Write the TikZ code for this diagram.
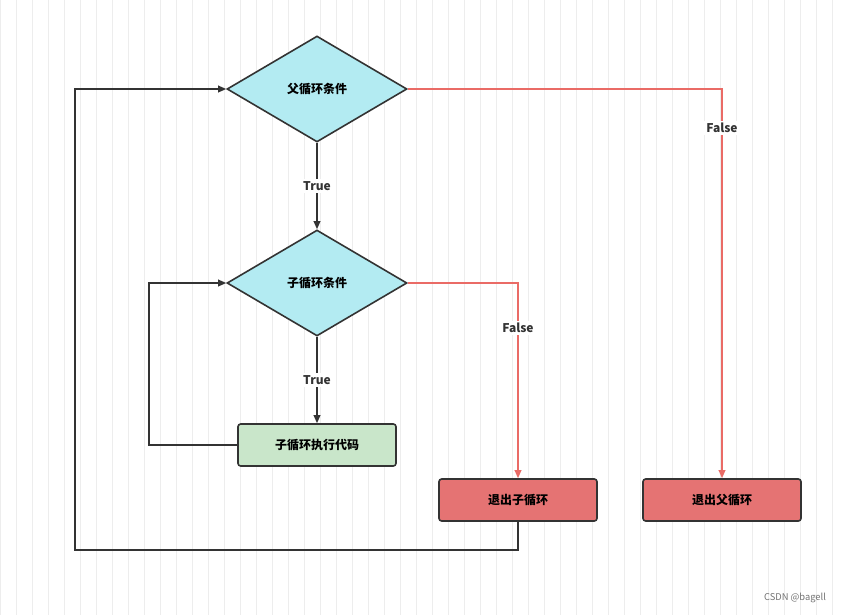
\documentclass[tikz,border=0pt]{standalone}
\usepackage{fontspec}
\setmainfont{Noto Sans CJK SC}
\usetikzlibrary{shapes.geometric,arrows.meta}
\definecolor{cy}{HTML}{B3EBF2}
\definecolor{gr}{HTML}{C9E6CA}
\definecolor{rd}{HTML}{E57373}
\definecolor{ln}{HTML}{333333}
\definecolor{rl}{HTML}{EA6B66}
\begin{document}
\begin{tikzpicture}[x=0.75pt,y=-0.75pt,
  dia/.style={diamond,draw=ln,line width=1.2pt,fill=cy,minimum width=135pt,minimum height=79.5pt,inner sep=0pt,aspect=1.7,font=\bfseries\small},
  box/.style={rectangle,rounded corners=2pt,draw=ln,line width=1.2pt,minimum width=118.5pt,minimum height=31.5pt,font=\bfseries\small},
  blk/.style={draw=ln,line width=1pt,-{Triangle[length=6pt,width=5pt]}},
  red/.style={draw=rl,line width=1pt,-{Triangle[length=6pt,width=5pt]}},
  lab/.style={fill=white,font=\bfseries\small,inner sep=1.5pt,text=ln}]
\useasboundingbox (0,0) rectangle (846,615);
\fill[white] (0,0) rectangle (846,615);
\draw[black!7,line width=0.4pt] (0,0) grid[step=16] (846,615);
\node[dia,shape aspect=1.7] (d1) at (317,89) {父循环条件};
\node[dia,shape aspect=1.7] (d2) at (317,283) {子循环条件};
\node[box,fill=gr] (c) at (317,445) {子循环执行代码};
\node[box,fill=rd] (e1) at (518,500) {退出子循环};
\node[box,fill=rd] (e2) at (722,500) {退出父循环};
\coordinate (p1) at (722,89);
\coordinate (p2) at (518,283);
\draw[red] (d1.east) -- (p1) -- node[lab,pos=0.1] {False} (e2.north);
\draw[blk] (d1.south) -- node[lab] {True} (d2.north);
\draw[red] (d2.east) -- (p2) -- node[lab,pos=0.23] {False} (e1.north);
\draw[blk] (d2.south) -- node[lab,pos=0.5] {True} (c.north);
\coordinate (q1) at (149,445);
\coordinate (q2) at (149,283);
\draw[blk] (c.west) -- (q1) -- (q2) -- (d2.west);
\coordinate (r1) at (518,550);
\coordinate (r2) at (75,550);
\coordinate (r3) at (75,89);
\draw[blk] (e1.south) -- (r1) -- (r2) -- (r3) -- (d1.west);
\node[font=\scriptsize,text=black!55] (wm) at (795,598) {CSDN @bagell};
\end{tikzpicture}
\end{document}
